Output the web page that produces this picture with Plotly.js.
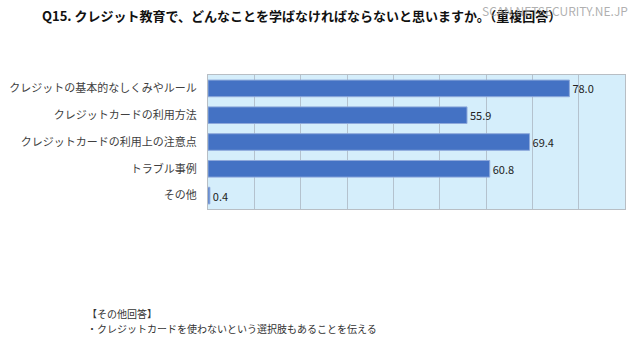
<!DOCTYPE html>
<html>
<head>
<meta charset="utf-8">
<script src="https://cdn.plot.ly/plotly-3.0.1.min.js"></script>
<style>html,body{margin:0;padding:0;background:#fff;}#chart{width:640px;height:341px;}</style>
</head>
<body>
<div id="chart"></div>
<script>
const categories = ["クレジットの基本的なしくみやルール", "クレジットカードの利用方法", "クレジットカードの利用上の注意点", "トラブル事例", "その他"];
const values = [78.0, 55.9, 69.4, 60.8, 0.4];
const valueLabels = values.map(v => v.toFixed(1));
const titleText = "Q15. クレジット教育で、どんなことを学ばなければならないと思いますか。（重複回答）";
const noteLines = ["【その他回答】", "・クレジットカードを使わないという選択肢もあることを伝える"];
const watermark = "SCAN NETSECURITY.NE.JP";

const font = '"Noto Sans CJK JP", "Noto Sans", sans-serif';

const trace = {
  type: 'bar',
  orientation: 'h',
  y: categories,
  x: values,
  text: valueLabels,
  textposition: 'outside',
  cliponaxis: false,
  textfont: {family: font, size: 11, color: '#222'},
  marker: {color: '#4472C4', line: {color: '#8EA9DB', width: 1}},
  hoverinfo: 'none'
};

const L = 208, R = 15, T = 75, B = 132;
const plotH = 341 - T - B;
const plotW = 640 - L - R;
const px2x = px => (px - L) / plotW;
const py2y = py => (341 - B - py) / plotH;

const layout = {
  width: 640, height: 341,
  margin: {l: L, r: R, t: T, b: B},
  paper_bgcolor: '#ffffff',
  plot_bgcolor: '#D5EEFB',
  showlegend: false,
  bargap: 0.38,
  title: {text: titleText, font: {family: font, size: 13, color: '#111', weight: 'bold'}, x: 42/640, xanchor: 'left', y: 1 - 16/341, yanchor: 'middle'},
  xaxis: {range: [0, 90], dtick: 10, showticklabels: false, showgrid: true, gridcolor: '#B4C2CE', gridwidth: 1, zeroline: false, showline: true, linecolor: '#B8BEC4', mirror: true, ticks: '', fixedrange: true},
  yaxis: {autorange: 'reversed', showline: true, linecolor: '#B8BEC4', mirror: true, ticks: '', ticklabelstandoff: 8, tickfont: {family: font, size: 11, color: '#404040'}, automargin: false, fixedrange: true},
  font: {family: font},
  annotations: [
    {text: noteLines[0], xref: 'paper', yref: 'paper', x: px2x(85), xanchor: 'left', y: py2y(313), yanchor: 'middle', showarrow: false, font: {family: font, size: 10, color: '#333'}},
    {text: noteLines[1], xref: 'paper', yref: 'paper', x: px2x(85), xanchor: 'left', y: py2y(328), yanchor: 'middle', showarrow: false, font: {family: font, size: 10, color: '#333'}},
    {text: watermark, xref: 'paper', yref: 'paper', x: px2x(630), xanchor: 'right', y: py2y(10), yanchor: 'middle', showarrow: false, font: {family: font, size: 12, color: 'rgba(150,150,150,0.75)'}}
  ]
};

Plotly.newPlot('chart', [trace], layout, {displayModeBar: false, staticPlot: true});
</script>
</body>
</html>
